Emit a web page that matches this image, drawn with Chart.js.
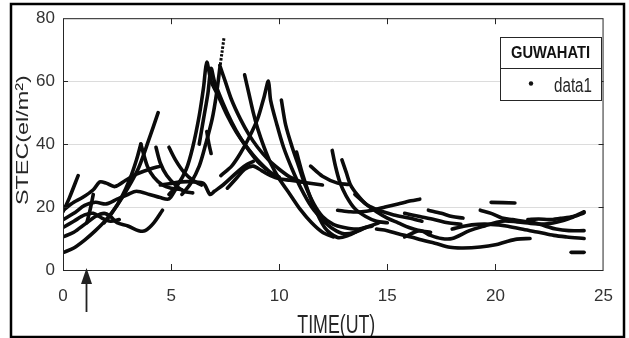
<!DOCTYPE html>
<html>
<head>
<meta charset="utf-8">
<title>STEC Guwahati</title>
<script src="https://cdn.jsdelivr.net/npm/chart.js@4.4.1/dist/chart.umd.min.js"></script>
<style>
    html, body { margin: 0; padding: 0; background: #fff; }
    #wrap { position: relative; width: 629px; height: 338px; }
</style>
</head>
<body>
<div id="wrap"><canvas id="stecChart" width="629" height="338"></canvas></div>
<script>
// Axes
const xTicks = [0, 5, 10, 15, 20, 25];
const yTicks = [0, 20, 40, 60, 80];
const xTitle = 'TIME(UT)';
const yTitle = 'STEC(el/m²)';
const stationName = 'GUWAHATI';
const seriesName = 'data1';
const eventTime = 1.05; // arrow marker (UT)

// Satellite arcs, [time UT, STEC]
const arc01 = [[0,5.5],[0.5,7],[1,9.5],[1.5,12.5],[2,16],[2.5,20.5],[3,26],[3.5,32.5],[3.95,41],[4.4,50]];
const arc02 = [[0,10.5],[0.5,12],[1,14.5],[1.5,17],[1.9,18],[2.2,17],[2.5,15],[3,14],[3.5,12.5],[3.8,12.5],[4.2,15],[4.6,19]];
const arc03 = [[0,13.5],[0.5,15.5],[1,17.5],[1.4,18],[1.8,16.5],[2.2,15.5],[2.6,16]];
const arc04 = [[0,18.5],[0.3,23],[0.7,30]];
const arc05 = [[0,19],[0.5,21.5],[0.9,23],[1.4,25.5],[1.7,28],[2,27.6],[2.4,26.5],[2.9,28.5],[3.4,30.5],[4,32],[4.5,33]];
const arc06 = [[0,16],[0.5,18],[1,20.5],[1.5,21.5],[2,21],[2.5,22.5],[3,24],[3.4,25],[4,24],[4.5,23],[4.9,22.6],[5.2,25.5]];
const arc07 = [[1.1,15],[1.25,19],[1.4,24]];
const arc08 = [[1.9,15],[2.3,18.5],[2.7,23],[3.1,29],[3.4,35],[3.6,40]];
const arc09 = [[3.6,40],[3.9,33],[4.2,29.5],[4.6,27],[5,26],[5.5,25.5]];
const arc10 = [[4.3,39],[4.5,34],[4.8,30],[5.2,27],[5.6,25],[6,24.5]];
const arc11 = [[4.9,39],[5.2,35],[5.6,31],[6,28.5],[6.4,27]];
const arc12 = [[4.9,24],[5.3,27],[5.7,32],[6,39],[6.3,49],[6.5,58],[6.65,66],[6.85,60],[7.2,55],[7.6,49],[8,44],[8.4,40],[8.8,36.5],[9.2,33.5],[9.6,31],[10,29.5]];
const arc13 = [[6.3,40],[6.5,48],[6.7,56],[6.85,64],[7,60],[7.4,53],[7.8,47],[8.2,42],[8.6,38],[9,34.5],[9.4,32]];
const arc14 = [[5.5,24],[5.9,27.5],[6.3,33],[6.6,40],[6.9,48],[7.1,56],[7.25,64]];
const arc14top = [[7.25,64],[7.35,69],[7.45,74]];
const arc15 = [[7.25,65],[7.5,60],[7.8,54],[8.2,48],[8.6,43],[9,39],[9.5,35],[10,32],[10.5,29.5],[11,28]];
const arc16 = [[8.4,62],[8.6,56],[8.8,50],[9,45],[9.3,39],[9.6,34],[10,29],[10.5,24],[11,19],[11.5,15],[12,12],[12.5,10.5]];
const arc17 = [[7.3,30],[7.8,33],[8.2,37],[8.6,42],[9,48],[9.3,55],[9.5,60],[9.6,54],[9.9,46],[10.2,39],[10.6,32],[11,26],[11.5,20],[12,16],[12.5,13],[13,11.5],[13.5,12],[14,13.5]];
const arc18 = [[10.1,54],[10.3,46],[10.6,39],[10.9,33],[11.2,27],[11.6,21],[12,17],[12.5,14.5],[13,13.5],[13.6,13],[14.2,14],[14.6,15]];
const arc19 = [[7.6,26],[8,29],[8.4,32],[8.8,33],[9.2,31.5],[9.6,30],[10,29],[10.5,28.5],[11,28],[11.5,27.5],[12,27]];
const arc20 = [[4.5,27],[5,27.5],[5.5,28],[6,28],[6.5,27.5],[6.8,24],[7,25],[7.4,27],[7.8,29.5],[8.2,32],[8.5,33.5],[8.8,34.5]];
const arc21 = [[6.65,44],[6.75,40],[6.85,37]];
const arc22 = [[10.8,37.5],[11.1,30],[11.5,22],[12.1,13.5],[12.7,10.3],[13.2,11],[13.8,13],[14.3,14]];
const arc23 = [[11.45,33],[12,29.8],[12.7,27.6],[13.2,27.2]];
const arc24 = [[12.45,38],[12.6,33],[12.8,28],[13.1,23.5],[13.5,19.5],[14,17],[14.5,15.5],[15,15]];
const arc25 = [[12.9,35],[13.1,31],[13.3,27],[13.6,24],[14,21],[14.4,19.5],[14.8,18.5],[15.3,17.5],[16,16.5],[16.6,15.5]];
const arc26 = [[12.7,19],[13.3,18.5],[13.8,18.5],[14.3,19],[14.9,20],[15.5,21],[16.1,22],[16.5,22.5]];
const arc27 = [[13.5,24],[14,21],[14.5,18.5],[15,16.5],[15.5,15],[16,13.5],[16.5,12.5],[17,12]];
const arc28 = [[14.5,13],[15,12.5],[15.5,11.5],[16.1,10.5],[16.6,9.5],[17.2,8.5],[17.9,7.2],[18.5,7],[19.3,7.3],[20,8],[20.5,9],[21,9.8],[21.6,10]];
const arc29 = [[15.8,10.5],[16.5,12.5],[17,11],[17.5,10],[18,10],[18.8,12.5],[19.5,14],[20.3,15.5],[21,15.3],[21.8,14.7],[22.4,14.7],[23,15.5],[23.5,16.6],[24.1,18.2]];
const arc30 = [[16.9,19],[17.5,18],[18,17],[18.5,16.5]];
const arc31 = [[19.3,19],[19.8,18],[20.3,16.5],[20.8,16],[21.3,15.5],[21.8,15],[22.3,14],[22.8,13],[23.4,12.5],[24.1,12.5]];
const arc32 = [[18,13],[18.6,14],[19.2,14.5],[19.8,14.5],[20.5,14],[21.2,13],[22,12],[22.7,11],[23.3,10.5],[24.1,10]];
const arc33 = [[19.8,21.5],[20.9,21.3]];
const arc34 = [[23.5,5.6],[24.1,5.6]];
const arc35 = [[21.5,16],[22,16.2],[22.5,16],[23,16.4],[23.6,17],[24.1,18.5]];
const arc36 = [[15.8,18],[16.5,17],[17.2,16],[17.8,15],[18.4,14.5]];

const arcs = [arc01, arc02, arc03, arc04, arc05, arc06, arc07, arc08, arc09, arc10,
    arc11, arc12, arc13, arc14, arc15, arc16, arc17, arc18, arc19, arc20,
    arc21, arc22, arc23, arc24, arc25, arc26, arc27, arc28, arc29, arc30,
    arc31, arc32, arc33, arc34, arc35, arc36];
// sparse samples near the 74 peak show as separate dots
const sparseArcs = [arc14top];

const AXIS_COLOR = '#262626';
const FONT = '"Liberation Sans", Arial, sans-serif';

// Draw text squeezed/stretched to a given width
function fitText(ctx, text, x, y, width, font, align) {
    ctx.save();
    ctx.font = font;
    const w = ctx.measureText(text).width;
    const k = width / w;
    ctx.translate(x, y);
    ctx.scale(k, 1);
    ctx.textAlign = align || 'center';
    ctx.fillText(text, 0, 0);
    ctx.restore();
}

// Box, inward ticks, titles, legend and the event arrow
const matlabFrame = {
    id: 'matlabFrame',
    afterDraw(chart) {
        const ctx = chart.ctx;
        const a = chart.chartArea;
        const xs = chart.scales.x, ys = chart.scales.y;

        ctx.save();
        ctx.strokeStyle = AXIS_COLOR;
        ctx.lineWidth = 1;
        ctx.strokeRect(a.left + 0.5, a.top + 0.5, a.right - a.left - 1, a.bottom - a.top);

        // inward tick marks on all four sides
        ctx.beginPath();
        xTicks.slice(1, -1).forEach(v => {
            const px = Math.round(xs.getPixelForValue(v)) + 0.5;
            ctx.moveTo(px, a.bottom); ctx.lineTo(px, a.bottom - 6);
            ctx.moveTo(px, a.top); ctx.lineTo(px, a.top + 6);
        });
        yTicks.slice(1, -1).forEach(v => {
            const py = Math.round(ys.getPixelForValue(v)) + 0.5;
            ctx.moveTo(a.left, py); ctx.lineTo(a.left + 5, py);
            ctx.moveTo(a.right, py); ctx.lineTo(a.right - 5, py);
        });
        ctx.stroke();

        // axis titles
        ctx.fillStyle = AXIS_COLOR;
        ctx.textBaseline = 'alphabetic';
        fitText(ctx, xTitle, (a.left + a.right) / 2 + 3, 333, 78, '25px ' + FONT);
        ctx.save();
        ctx.translate(28, (a.top + a.bottom) / 2 - 4);
        ctx.rotate(-Math.PI / 2);
        fitText(ctx, yTitle, 0, 0, 130, '17px ' + FONT);
        ctx.restore();

        // legend box
        const lx = 500, ly = 37, lw = 101, lh = 63;
        ctx.fillStyle = '#fff';
        ctx.fillRect(lx, ly, lw, lh);
        ctx.strokeStyle = AXIS_COLOR;
        ctx.strokeRect(lx + 0.5, ly + 0.5, lw, lh);
        ctx.beginPath();
        ctx.moveTo(lx, ly + 31.5); ctx.lineTo(lx + lw, ly + 31.5);
        ctx.stroke();
        ctx.fillStyle = '#111';
        fitText(ctx, stationName, lx + lw / 2, ly + 21, 79, 'bold 17px ' + FONT);
        ctx.fillStyle = AXIS_COLOR;
        fitText(ctx, seriesName, 592, ly + 55, 38, '20px ' + FONT, 'right');
        ctx.fillStyle = '#111';
        ctx.beginPath();
        ctx.arc(531, ly + 46.5, 2.2, 0, Math.PI * 2);
        ctx.fill();

        // event arrow under the time axis
        const ax = Math.round(xs.getPixelForValue(eventTime)) + 0.5;
        ctx.strokeStyle = '#222';
        ctx.fillStyle = '#222';
        ctx.lineWidth = 1.8;
        ctx.beginPath();
        ctx.moveTo(ax, 312); ctx.lineTo(ax, 278);
        ctx.stroke();
        ctx.beginPath();
        ctx.moveTo(ax, 268); ctx.lineTo(ax - 5.5, 284); ctx.lineTo(ax + 5.5, 284);
        ctx.closePath();
        ctx.fill();

        // outer figure border
        ctx.strokeStyle = '#000';
        ctx.lineWidth = 2.5;
        ctx.strokeRect(11, 4, 613, 333);
        ctx.restore();
    }
};

Chart.defaults.font.family = FONT;

const trackStyle = {
    showLine: true,
    borderColor: '#0b0b0b',
    backgroundColor: '#0b0b0b',
    borderWidth: 3.6,
    pointRadius: 0,
    tension: 0.3,
    borderCapStyle: 'round',
    borderJoinStyle: 'round'
};

const datasets = arcs.map((arc, i) => Object.assign({
    label: i === 0 ? seriesName : '',
    data: arc.map(([x, y]) => ({ x, y }))
}, trackStyle)).concat(sparseArcs.map(arc => Object.assign({}, trackStyle, {
    label: '',
    data: arc.map(([x, y]) => ({ x, y })),
    borderWidth: 3,
    borderCapStyle: 'butt',
    borderDash: [2.5, 1.5]
})));

const ctx = document.getElementById('stecChart').getContext('2d');
new Chart(ctx, {
    type: 'scatter',
    data: { datasets },
    options: {
        responsive: false,
        animation: false,
        layout: { padding: { left: 0, right: 16, top: 15, bottom: 0 } },
        scales: {
            x: {
                type: 'linear',
                min: 0, max: 25,
                afterBuildTicks: s => { s.ticks = xTicks.map(v => ({ value: v })); },
                afterFit: s => { s.height = 68; },
                grid: { display: false, drawTicks: false },
                border: { display: false },
                ticks: { color: '#333', font: { size: 17 }, padding: 16, maxRotation: 0 }
            },
            y: {
                min: 0, max: 80,
                afterBuildTicks: s => { s.ticks = yTicks.map(v => ({ value: v })); },
                afterFit: s => { s.width = 63; },
                grid: { color: '#dcdcdc', drawTicks: false },
                border: { display: false },
                ticks: { color: '#333', font: { size: 17 }, padding: 8 }
            }
        },
        plugins: {
            legend: { display: false },
            tooltip: { enabled: false }
        }
    },
    plugins: [matlabFrame]
});
</script>
</body>
</html>
